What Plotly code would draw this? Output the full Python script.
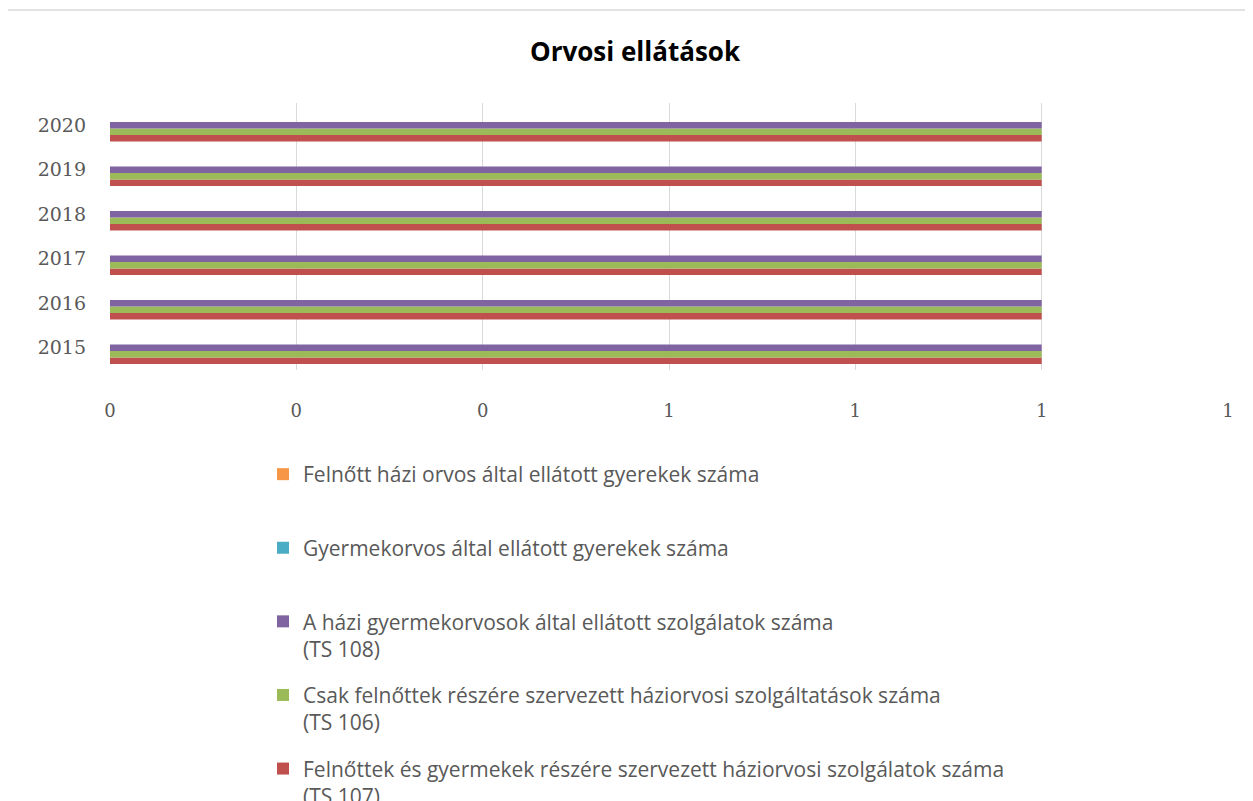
import plotly.graph_objects as go

years = ["2015", "2016", "2017", "2018", "2019", "2020"]

series_names = [
    "Felnőttek és gyermekek részére szervezett háziorvosi szolgálatok száma<br>(TS 107)",
    "Csak felnőttek részére szervezett háziorvosi szolgáltatások száma<br>(TS 106)",
    "A házi gyermekorvosok által ellátott szolgálatok száma<br>(TS 108)",
    "Gyermekorvos által ellátott gyerekek száma<br> ",
    "Felnőtt házi orvos által ellátott gyerekek száma<br> ",
]
legend_ranks = [5, 4, 3, 2, 1]
red_vals = [1, 1, 1, 1, 1, 1]
green_vals = [1, 1, 1, 1, 1, 1]
purple_vals = [1, 1, 1, 1, 1, 1]
teal_vals = [0, 0, 0, 0, 0, 0]
orange_vals = [0, 0, 0, 0, 0, 0]
colors = ["#C0504D", "#9BBB59", "#8064A2", "#4BACC6", "#F79646"]

x_tickvals = [0, 0.2, 0.4, 0.6, 0.8, 1.0, 1.2]
x_ticktext = ["0", "0", "0", "1", "1", "1", "1"]

all_vals = [red_vals, green_vals, purple_vals, teal_vals, orange_vals]

fig = go.Figure()
for i, (name, vals, col, rk) in enumerate(zip(series_names, all_vals, colors, legend_ranks)):
    fig.add_trace(go.Bar(
        y=years, x=vals, name=name, orientation="h",
        marker=dict(color=col, line=dict(width=0)),
        legendgroup=f"g{i}", legendrank=rk,
    ))

# page renders with an ~8px body offset; figure coords = screenshot coords - 8
OFF = 8
W, H = 1253, 801
L = 110 - OFF
T = 103 - OFF
R = W - (1228 - OFF)
B = H - (370 - OFF)
pw, ph = W - L - R, H - T - B
plot_bottom = T + ph

fig.update_layout(
    width=W, height=H,
    margin=dict(l=L, r=R, t=T, b=B, autoexpand=False),
    paper_bgcolor="white", plot_bgcolor="white",
    barmode="group", bargap=0.27, bargroupgap=0,
    title=dict(text="<b>Orvosi ellátások</b>", x=(635 - OFF) / W, xref="container", xanchor="center",
               y=1 - (52 - OFF) / H, yref="container", yanchor="middle",
               font=dict(family="Open Sans, sans-serif", size=26, color="#000000")),
    font=dict(family="Open Sans, sans-serif", color="#595959"),
    xaxis=dict(range=[0, 1.2], tickvals=x_tickvals, ticktext=x_ticktext,
               showgrid=True, gridcolor="#D9D9D9", gridwidth=1, zeroline=False,
               showline=False, ticks="", ticklabelstandoff=28,
               tickfont=dict(family="DejaVu Serif, Liberation Serif, serif", size=18, color="#595959")),
    yaxis=dict(showgrid=False, zeroline=False, showline=False, ticks="",
               ticklabelstandoff=23,
               tickfont=dict(family="DejaVu Serif, Liberation Serif, serif", size=19, color="#595959")),
    legend=dict(traceorder="grouped", x=(263 - OFF - L) / pw, xanchor="left",
                y=-(454 - OFF - plot_bottom) / ph, yanchor="top", valign="top",
                font=dict(family="Open Sans, sans-serif", size=21, color="#595959"),
                tracegroupgap=16, itemwidth=30, bgcolor="rgba(0,0,0,0)"),
    showlegend=True,
)

fig.add_shape(type="rect", xref="paper", yref="paper",
              x0=(3 - OFF - L) / pw, x1=(1252 - OFF - L) / pw,
              y0=(plot_bottom - 820) / ph, y1=(plot_bottom - (10 - OFF)) / ph,
              line=dict(color="#D9D9D9", width=1.5), fillcolor="rgba(0,0,0,0)", layer="below")

fig.write_html("out.html")
